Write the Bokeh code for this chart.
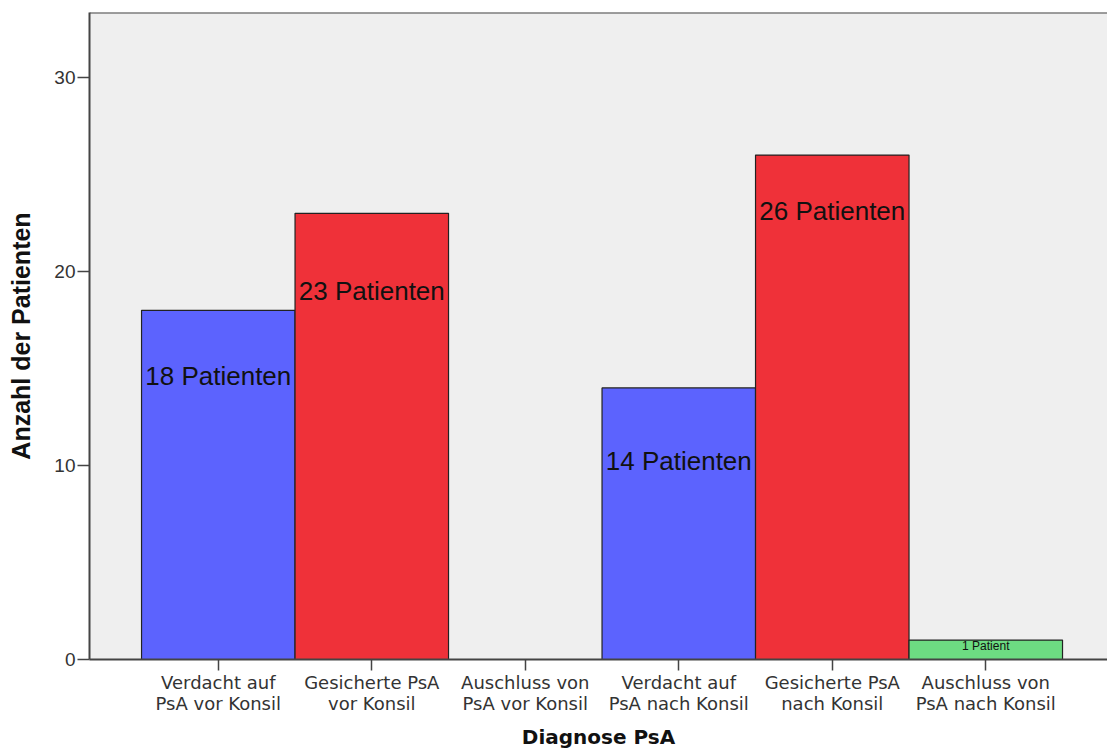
from bokeh.plotting import figure
from bokeh.models import ColumnDataSource, Range1d, FixedTicker, Span
from bokeh.core.properties import value
from bokeh.embed import file_html
from bokeh.resources import INLINE

# Diagnosis categories (before / after consultation) and patient counts
categories = [
    "Verdacht auf\nPsA vor Konsil",
    "Gesicherte PsA\nvor Konsil",
    "Auschluss von\nPsA vor Konsil",
    "Verdacht auf\nPsA nach Konsil",
    "Gesicherte PsA\nnach Konsil",
    "Auschluss von\nPsA nach Konsil",
]
patients = [18, 23, 0, 14, 26, 1]
bar_colors = ["#5c63fe", "#ef3139", "#5c63fe", "#5c63fe", "#ef3139", "#6ddc82"]

# label placement inside each bar (screen pixels below the bar top) and size
label_offsets = [66, 78, 0, 73, 56, 6]
label_sizes = ["26px", "26px", "26px", "26px", "26px", "12px"]

Y_MAX = 33.35

xs = list(range(len(categories)))
labels = [("" if v == 0 else ("1 Patient" if v == 1 else f"{v} Patienten")) for v in patients]

src = ColumnDataSource(dict(
    x=xs, top=patients, color=bar_colors, label=labels,
    yoff=label_offsets, size=label_sizes,
))

p = figure(
    width=1107, height=751,
    x_range=Range1d(-0.839, 5.793), y_range=Range1d(0, Y_MAX),
    output_backend="svg", toolbar_location=None,
    min_border_left=89, min_border_right=0, min_border_top=12, min_border_bottom=91,
    background_fill_color="white", border_fill_color="white",
)
p.background_fill_color = "#efefef"
p.outline_line_color = None
p.grid.visible = False

p.vbar(x="x", top="top", width=1.0, bottom=0, source=src,
       fill_color="color", line_color="#222222", line_width=1.2)

p.text(x="x", y="top", text="label", source=src, y_offset="yoff",
       text_align="center", text_baseline="middle",
       text_font=value("Liberation Sans"), text_font_size="size",
       text_color="#111111")

# top border of the plotting frame
p.add_layout(Span(location=Y_MAX, dimension="width", line_color="#444444", line_width=2))

# x axis
p.xaxis.ticker = FixedTicker(ticks=xs)
p.xaxis.major_label_overrides = {i: c for i, c in enumerate(categories)}
p.xaxis.major_label_text_font = "DejaVu Sans"
p.xaxis.major_label_text_font_size = "18px"
p.xaxis.major_label_text_line_height = 1.0
p.xaxis.major_label_text_color = "#333333"
p.xaxis.major_label_standoff = 1
p.xaxis.major_tick_in = 0
p.xaxis.major_tick_out = 11
p.xaxis.minor_tick_line_color = None
p.xaxis.axis_line_color = "#444444"
p.xaxis.axis_line_width = 2
p.xaxis.major_tick_line_color = "#444444"
p.xaxis.major_tick_line_width = 1.5
p.xaxis.axis_label = "Diagnose PsA"
p.xaxis.axis_label_text_font = "DejaVu Sans"
p.xaxis.axis_label_text_font_style = "bold"
p.xaxis.axis_label_text_font_size = "20px"
p.xaxis.axis_label_text_color = "#111111"
p.xaxis.axis_label_standoff = 8

# y axis
p.yaxis.ticker = FixedTicker(ticks=[0, 10, 20, 30])
p.yaxis.major_label_text_font = "Liberation Sans"
p.yaxis.major_label_text_font_size = "19px"
p.yaxis.major_label_text_color = "#333333"
p.yaxis.major_label_standoff = 2
p.yaxis.major_tick_in = 0
p.yaxis.major_tick_out = 12
p.yaxis.minor_tick_line_color = None
p.yaxis.axis_line_color = "#444444"
p.yaxis.axis_line_width = 2
p.yaxis.major_tick_line_color = "#444444"
p.yaxis.major_tick_line_width = 1.5
p.yaxis.axis_label = "Anzahl der Patienten"
p.yaxis.axis_label_text_font = "Liberation Sans"
p.yaxis.axis_label_text_font_style = "bold"
p.yaxis.axis_label_text_font_size = "25px"
p.yaxis.axis_label_text_color = "#111111"
p.yaxis.axis_label_standoff = 16

open("out.html", "w").write(file_html(p, INLINE))
